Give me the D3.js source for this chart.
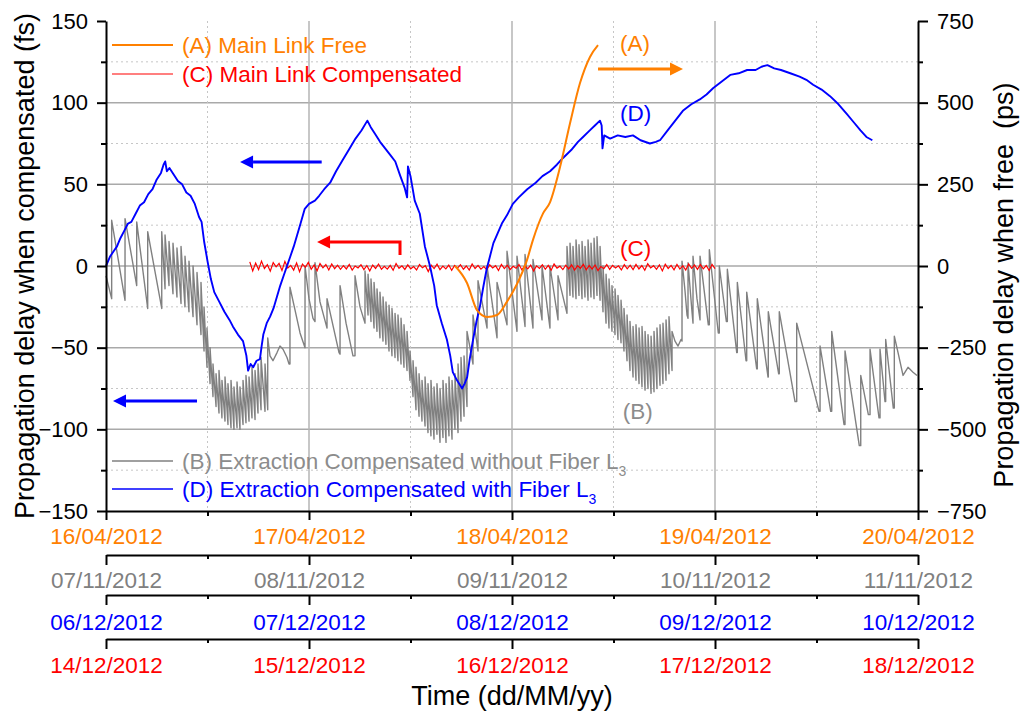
<!DOCTYPE html>
<html>
<head>
<meta charset="utf-8">
<script src="https://cdn.jsdelivr.net/npm/d3@7"></script>
<style>
  body { margin: 0; background: #fff; }
  svg { display: block; }
</style>
</head>
<body>
<svg id="chart" width="1022" height="713"></svg>
<script>
// time is in hours since 16/04/2012 00:00 (the first date row)
const dayTicks = [0, 24, 48, 72, 96];
const halfDayTicks = [12, 36, 60, 84];
const datesA = ["16/04/2012", "17/04/2012", "18/04/2012", "19/04/2012", "20/04/2012"];
const datesB = ["07/11/2012", "08/11/2012", "09/11/2012", "10/11/2012", "11/11/2012"];
const datesD = ["06/12/2012", "07/12/2012", "08/12/2012", "09/12/2012", "10/12/2012"];
const datesC = ["14/12/2012", "15/12/2012", "16/12/2012", "17/12/2012", "18/12/2012"];

const leftMajor = [-150, -100, -50, 0, 50, 100, 150];
const leftMinor = [-125, -75, -25, 25, 75, 125];
const rightMajor = [-750, -500, -250, 0, 250, 500, 750];
const rightMinor = [-625, -375, -125, 125, 375, 625];

// (A) main link free, ps (right axis)
const seriesA = [
  [41.26, 0], [42.68, -52], [43.86, -135], [45.05, -156], [46.23, -150], [47.41, -109],
  [48.59, -55], [49.77, 18], [50.48, 80], [51.67, 161], [52.49, 195], [53.68, 303],
  [54.86, 437], [56.04, 560], [57.22, 640], [58.17, 676]
];

// (B) extraction compensated without fiber L3, fs: [t, v] or [t, low, high] for a jump
const seriesB = [
  [0, -6], [0.67, -20, 28], [2.25, -21, 29], [3.63, -12, 27], [4.93, -26, 21], [6.59, -26, 21],
  [6.98, -14, 19], [7.45, -12, 15], [7.92, -17, 14], [8.39, -19, 11], [8.87, -23, 12],
  [9.34, -25, 6], [9.81, -28, 3], [10.29, -31, 0], [10.76, -36, -4], [11.23, -42, -10],
  [11.59, -52, -25], [11.94, -62, -38], [12.30, -72, -50], [12.65, -80, -60], [13.01, -86, -66],
  [13.36, -90, -64], [13.71, -93, -70], [14.07, -95, -68], [14.42, -97, -72], [14.78, -99, -70],
  [15.13, -100, -74], [15.49, -99, -71], [15.84, -100, -74], [16.20, -97, -70], [16.55, -96, -67],
  [16.91, -95, -68], [17.26, -93, -62], [17.62, -94, -64], [17.97, -90, -60], [18.33, -88, -56],
  [18.80, -89, -60], [19.12, -88, -44], [19.39, -55], [19.74, -58], [20.22, -53], [20.57, -49],
  [20.93, -51], [21.40, -56], [21.64, -60], [21.75, -60, -13], [22.35, -27], [22.94, -41],
  [23.53, -50, 0], [24.00, -20], [24.47, -32], [24.71, -34, 2], [25.30, -22], [26.13, -38, -20],
  [27.55, -53], [27.67, -54, -12], [28.38, -35], [29.20, -55], [29.44, -55, -6], [30.03, -25],
  [30.50, -33], [30.62, -35, -3],
  [30.98, -30, -5], [31.33, -34, -8], [31.69, -38, -10], [32.04, -40, -14], [32.39, -44, -16],
  [32.75, -46, -19], [33.10, -48, -22], [33.46, -52, -24], [33.81, -55, -26], [34.17, -56, -29],
  [34.52, -58, -30], [34.88, -60, -32], [35.23, -62, -36], [35.59, -64, -40], [35.94, -70, -52],
  [36.30, -80, -58], [36.65, -88, -62], [37.01, -92, -66], [37.36, -95, -70], [37.72, -98, -68],
  [38.07, -102, -72], [38.42, -104, -70], [38.78, -106, -74], [39.13, -103, -72], [39.49, -108, -75],
  [39.84, -105, -70], [40.20, -108, -72], [40.55, -104, -68], [40.91, -106, -70], [41.26, -100, -66],
  [41.62, -102, -60], [41.97, -95, -56], [42.33, -92, -55], [42.68, -86, -40], [43.39, -60, -30],
  [43.98, -52, -9], [45.05, -38, 0], [46.23, -44, -10], [47.41, -36, 9], [48.59, -40, 6],
  [49.54, -37, 7], [50.48, -38, 4], [51.55, -33, 0], [52.49, -38, 0], [53.44, -33, -6],
  [54.50, -29, 12],
  [54.86, -18, 14], [55.21, -19, 12], [55.57, -20, 16], [55.92, -18, 13], [56.28, -20, 15],
  [56.63, -19, 12], [56.99, -21, 16], [57.34, -19, 14], [57.70, -20, 17], [58.05, -18, 18],
  [58.41, -21, 12], [58.76, -28, 0], [59.12, -35, -5], [59.47, -38, -8], [59.82, -40, -12],
  [60.18, -42, -14], [60.53, -45, -18], [60.89, -47, -21], [61.24, -52, -26], [61.60, -58, -30],
  [61.95, -64, -34], [62.31, -68, -37], [62.66, -70, -36], [63.02, -72, -38], [63.37, -74, -37],
  [63.73, -76, -40], [64.08, -75, -42], [64.44, -78, -43], [64.79, -77, -40], [65.14, -75, -38],
  [65.50, -73, -36], [65.85, -72, -35], [66.21, -70, -33], [66.56, -66, -31], [66.92, -64, -40],
  [67.27, -46], [67.63, -49], [67.98, -45], [68.10, -46, 3], [68.45, -15], [68.69, -30],
  [68.81, -32, 2], [69.28, -28], [69.40, -35, 6], [69.87, -20], [70.23, -33, 6], [71.21, -36],
  [71.33, -36, 10], [72.39, -41], [72.51, -41, 0], [73.34, -34], [73.46, -34, -2], [74.57, -53],
  [74.64, -53, -10], [75.67, -58], [75.75, -58, -16], [76.93, -63], [77.00, -63, -20], [78.27, -68],
  [78.30, -68, -28], [79.53, -66], [79.60, -66, -28], [81.46, -83], [81.66, -83, -35], [84.30, -89],
  [84.42, -89, -49], [85.68, -89], [85.80, -89, -40], [87.25, -97], [87.37, -97, -52], [89.06, -110],
  [89.23, -110, -67], [90.13, -91], [90.33, -91, -51], [91.39, -93], [91.51, -93, -51], [92.10, -83],
  [92.18, -83, -45], [93.08, -87], [93.20, -87, -43], [93.64, -53], [94.23, -67], [94.82, -62],
  [95.41, -65], [95.88, -67]
];

// (C) main link compensated, fs, evenly sampled from cStart to cEnd
const cStart = 17.0;
const cEnd = 72.0;
const seriesC = [
  2.5, -3, 1.8, -2.2, 3, -1.5, 0.8, -3.2, 2.1, -0.5, 1.6, -2.8, 2.8, -1.2, 0.4, -2.5, 1.9, -3.5, 1.2, -0.8,
  2.2, -2, 0.6, -2.9, 1.5, -1.1, 0.9, -2.4, 1.3, -1.6,
  0.5, -2, 0.2, -1.8, 1, -2.5, 0, -1.2, 0.8, -2.2, 0.3, -3, 0.6, -1.5, 1.2, -2, -0.2, -1.9, 0.4, -2.6,
  1.5, -1.4, 0.1, -2.1, 0.7, -1.7, -0.3, -2.4, 0.9, -1.1, 0.2, -3.4, 0.5, -1.6, 1.1, -2.2, -0.1, -1.8, 0.6, -2.7,
  0.3, -1.3, 0.8, -2, 0, -2.5, 1.3, -1.5, 0.4, -1.9, -0.4, -2.3, 0.7, -1.2, 0.2, -2.8, 1, -1.6, 0.5, -2.1,
  -0.2, -1.4, 0.9, -2.4, 0.3, -1.7, 0.6, -3.1, 0.1, -1.5, 0.8, -2, 0.4, -2.6, 1.2, -1.3, -0.1, -2.2, 0.5, -1.8,
  0.7, -2.5, 0.2, -1.4, 1, -2.3, 0.3, -1.9, 0.6, -2.8, -0.3, -1.6, 0.9, -2.1, 0.4, -1.2, 0.1, -2.4, 0.8, -1.7,
  0.5, -2.2, 1, -1.8, 0.3, -2.6, 1.4, -1.2, 0.2, -2, 0.7, -3, 1.1, -1.5, 0.4, -2.3, 0.9, -1.9, 0.2, -2.5,
  1.3, -1.4, 0.6, -2.1, 0.8, -1.7, 0.3, -2.8, 1, -1.6
];

// (D) extraction compensated with fiber L3, fs
const seriesD = [
  [0, 0], [0.5, 6], [0.9, 9], [1.3, 12], [1.7, 17], [2.2, 22], [2.6, 26], [3.0, 27], [3.5, 32],
  [4.0, 37], [4.5, 39], [5.0, 44], [5.5, 47], [6.0, 53], [6.5, 57], [6.8, 62], [7.0, 64], [7.2, 58],
  [7.5, 60], [8.0, 56], [8.5, 52], [9.0, 50], [9.5, 45], [10.0, 43], [10.5, 38], [11.0, 30], [11.3, 27],
  [11.6, 15], [12.0, 3], [12.4, -8], [12.8, -16], [13.4, -22], [14.0, -28], [14.6, -33], [15.0, -37],
  [15.6, -42], [16.2, -46], [16.6, -55], [16.8, -64], [17.1, -60], [17.4, -62], [17.8, -58], [18.2, -57],
  [18.4, -49], [18.6, -42], [19.0, -35], [19.4, -31], [19.8, -26], [20.2, -19], [20.6, -12], [21.0, -6],
  [21.4, 0], [21.8, 6], [22.2, 12], [22.6, 19], [23.0, 26], [23.5, 35], [24.0, 38], [24.7, 40],
  [25.2, 43], [25.8, 47], [26.5, 51], [27.2, 58], [28.0, 65], [28.8, 72], [29.5, 78], [30.2, 83],
  [30.9, 89], [31.3, 85], [31.8, 81], [32.4, 76], [33.0, 72], [33.6, 68], [34.2, 64], [34.8, 55],
  [35.3, 48], [35.6, 42], [35.7, 61], [36.0, 55], [36.5, 40], [37.1, 32], [37.7, 12], [38.3, 0],
  [38.8, -12], [39.1, -24], [39.7, -35], [40.3, -45], [40.7, -55], [41.0, -65], [41.5, -70], [42.1, -75],
  [42.4, -72], [42.7, -68], [43.0, -57], [43.4, -45], [43.8, -34], [44.2, -25], [44.6, -13], [45.0, -2],
  [45.4, 6], [45.8, 14], [46.3, 20], [46.8, 26], [47.4, 31], [48.1, 38], [48.8, 42], [49.8, 47],
  [50.8, 51], [51.6, 55], [52.5, 58], [53.3, 62], [54.0, 66], [55.0, 71], [55.8, 76], [56.4, 79],
  [57.2, 83], [57.8, 86], [58.4, 89], [58.6, 86], [58.7, 72], [58.9, 80], [59.6, 78], [60.5, 80],
  [61.4, 79], [62.3, 80], [63.2, 77], [64.3, 75], [65.0, 76], [65.5, 77], [66.4, 83], [67.3, 89],
  [68.2, 95], [69.2, 99], [70.2, 102], [71.0, 105], [71.8, 109], [72.8, 113], [73.8, 117], [74.8, 118],
  [75.8, 120], [76.8, 120], [77.5, 122], [78.2, 123], [79.0, 121], [79.8, 120], [80.9, 118], [82.0, 116],
  [82.8, 114], [83.6, 111], [84.6, 108], [85.6, 104], [86.6, 99], [87.6, 93], [88.4, 88], [89.2, 83],
  [89.9, 79], [90.6, 77]
];

const FONT = "'Liberation Sans', Arial, Helvetica, sans-serif";
const ORANGE = "#ff8000", RED = "#ff0000", BLUE = "#0000ff", GRAY = "#808080", LGRAY = "#8c8c8c";

const svg = d3.select("#chart").attr("font-family", FONT);

const x = d3.scaleLinear().domain([0, 96]).range([106, 918]);
const yL = d3.scaleLinear().domain([-150, 150]).range([511, 21]);
const yR = d3.scaleLinear().domain([-750, 750]).range([511, 21]);

// grid
const grid = svg.append("g");
grid.selectAll(".hmaj").data([-100, -50, 0, 50, 100]).join("line")
  .attr("x1", 106).attr("x2", 918).attr("y1", d => yL(d)).attr("y2", d => yL(d))
  .attr("stroke", "#a9a9a9").attr("stroke-width", 1.5);
grid.selectAll(".hmin").data(leftMinor).join("line")
  .attr("x1", 106).attr("x2", 918).attr("y1", d => yL(d)).attr("y2", d => yL(d))
  .attr("stroke", "#c6c6c6").attr("stroke-width", 1).attr("stroke-dasharray", "2,3");
grid.selectAll(".vmaj").data([24, 48, 72]).join("line")
  .attr("x1", d => x(d)).attr("x2", d => x(d)).attr("y1", 21).attr("y2", 511)
  .attr("stroke", "#b4b4b4").attr("stroke-width", 1.5);
grid.selectAll(".vmin").data(halfDayTicks).join("line")
  .attr("x1", d => x(d)).attr("x2", d => x(d)).attr("y1", 21).attr("y2", 511)
  .attr("stroke", "#c6c6c6").attr("stroke-width", 1).attr("stroke-dasharray", "2,3");

// series
const lineL = d3.line().x(d => x(d[0])).y(d => yL(d[1]));
const lineR = d3.line().x(d => x(d[0])).y(d => yR(d[1]));

const bPoints = seriesB.flatMap(d => d.length === 3 ? [[d[0], d[1]], [d[0], d[2]]] : [d]);
svg.append("path").datum(bPoints).attr("d", lineL)
  .attr("fill", "none").attr("stroke", GRAY).attr("stroke-width", 1.4).attr("stroke-linejoin", "round");

const cStep = (cEnd - cStart) / (seriesC.length - 1);
const cPoints = seriesC.map((v, i) => [cStart + i * cStep, v]);
svg.append("path").datum(cPoints).attr("d", lineL)
  .attr("fill", "none").attr("stroke", RED).attr("stroke-width", 1.2);

svg.append("path").datum(seriesD).attr("d", lineL)
  .attr("fill", "none").attr("stroke", BLUE).attr("stroke-width", 1.9).attr("stroke-linejoin", "round");

svg.append("path").datum(seriesA).attr("d", lineR.curve(d3.curveMonotoneX))
  .attr("fill", "none").attr("stroke", ORANGE).attr("stroke-width", 2);

// axes
function styleAxis(sel, color, size) {
  sel.attr("font-family", FONT).attr("font-size", size);
  sel.select(".domain").attr("stroke", "#000").attr("stroke-width", 2);
  sel.selectAll(".tick line").attr("stroke", "#000").attr("stroke-width", 2);
  sel.selectAll(".tick text").attr("fill", color);
}

const left = svg.append("g").attr("transform", "translate(106,0)")
  .call(d3.axisLeft(yL).tickValues(leftMajor).tickSize(9).tickPadding(9).tickSizeOuter(0));
styleAxis(left, "#000", 22);
const leftM = svg.append("g").attr("transform", "translate(106,0)")
  .call(d3.axisLeft(yL).tickValues(leftMinor).tickSize(5).tickFormat(""));
leftM.select(".domain").remove();
styleAxis(leftM, "#000", 22);

const right = svg.append("g").attr("transform", "translate(918,0)")
  .call(d3.axisRight(yR).tickValues(rightMajor).tickSize(10).tickPadding(9).tickSizeOuter(0));
styleAxis(right, "#000", 22);
const rightM = svg.append("g").attr("transform", "translate(918,0)")
  .call(d3.axisRight(yR).tickValues(rightMinor).tickSize(5).tickFormat(""));
rightM.select(".domain").remove();
styleAxis(rightM, "#000", 22);

const dateRows = [
  { y: 511, labels: datesA, color: ORANGE, textY: 33 },
  { y: 555, labels: datesB, color: GRAY, textY: 33 },
  { y: 595, labels: datesD, color: BLUE, textY: 35 },
  { y: 639, labels: datesC, color: RED, textY: 34 }
];
dateRows.forEach(row => {
  const g = svg.append("g").attr("transform", `translate(0,${row.y})`)
    .call(d3.axisBottom(x).tickValues(dayTicks).tickSize(row.y === 511 ? 9 : 10).tickSizeOuter(0)
      .tickFormat((d, i) => row.labels[i]));
  styleAxis(g, row.color, 22.5);
  g.selectAll(".tick text").attr("y", row.textY).attr("dy", 0);
  const gm = svg.append("g").attr("transform", `translate(0,${row.y})`)
    .call(d3.axisBottom(x).tickValues(halfDayTicks).tickSize(row.y === 511 ? 5 : 4).tickFormat(""));
  gm.select(".domain").remove();
  styleAxis(gm, "#000", 22.5);
});

// axis titles
svg.append("text").attr("transform", `translate(34,${yL(0)}) rotate(-90)`)
  .attr("text-anchor", "middle").attr("font-size", 27).attr("fill", "#000")
  .text("Propagation delay when compensated (fs)");
svg.append("text").attr("transform", "translate(1013,285) rotate(-90)")
  .attr("text-anchor", "middle").attr("font-size", 27).attr("fill", "#000")
  .style("white-space", "pre")
  .text("Propagation delay when free  (ps)");
svg.append("text").attr("x", x(48)).attr("y", 705)
  .attr("text-anchor", "middle").attr("font-size", 27).attr("fill", "#000")
  .text("Time (dd/MM/yy)");

// legends
function legendItem(y, color, width, label, sub) {
  svg.append("line").attr("x1", 112).attr("x2", 173).attr("y1", y).attr("y2", y)
    .attr("stroke", color).attr("stroke-width", width);
  const t = svg.append("text").attr("x", 182).attr("y", y + 8)
    .attr("font-size", 22.5).attr("fill", color === GRAY ? LGRAY : color).text(label);
  if (sub) t.append("tspan").attr("font-size", 14).attr("dy", 7).text(sub);
}
legendItem(45, ORANGE, 2, "(A) Main Link Free");
legendItem(74, RED, 1.2, "(C) Main Link Compensated");
legendItem(461, GRAY, 1.5, "(B) Extraction Compensated without Fiber L", "3");
legendItem(489, BLUE, 1.5, "(D) Extraction Compensated with Fiber L", "3");

// annotations
function arrow(pts, color) {
  const n = pts.length;
  const [tx, ty] = pts[n - 1];
  const [px, py] = pts[n - 2];
  const len = Math.hypot(tx - px, ty - py);
  const ux = (tx - px) / len, uy = (ty - py) / len;
  const head = 13, half = 6.5;
  const bx = tx - ux * head, by = ty - uy * head;
  const shaft = pts.slice(0, n - 1).concat([[bx, by]]);
  svg.append("path").attr("d", d3.line()(shaft))
    .attr("fill", "none").attr("stroke", color).attr("stroke-width", 3);
  svg.append("path")
    .attr("d", `M${tx},${ty}L${bx - uy * half},${by + ux * half}L${bx + uy * half},${by - ux * half}Z`)
    .attr("fill", color);
}
arrow([[x(25.5), yL(63.7)], [x(15.85), yL(63.7)]], BLUE);
arrow([[x(34.76), yL(6.7)], [x(34.76), yL(14.7)], [x(24.95), yL(14.7)]], RED);
arrow([[x(10.76), yL(-82.7)], [x(0.83), yL(-82.7)]], BLUE);
arrow([[x(58.17), yR(603)], [x(68.22), yR(603)]], ORANGE);

const tags = [
  { t: 60.77, v: 131.7, label: "(A)", color: ORANGE },
  { t: 60.77, v: 88.8, label: "(D)", color: BLUE },
  { t: 60.77, v: 6.1, label: "(C)", color: RED },
  { t: 61.1, v: -93.7, label: "(B)", color: LGRAY }
];
svg.selectAll(".tag").data(tags).join("text")
  .attr("x", d => x(d.t)).attr("y", d => yL(d.v))
  .attr("font-size", 22.5).attr("fill", d => d.color).text(d => d.label);
</script>
</body>
</html>
